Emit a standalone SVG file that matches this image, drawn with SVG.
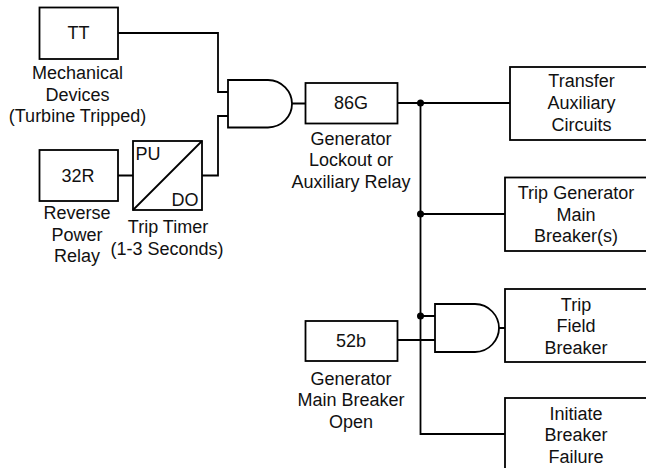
<svg xmlns="http://www.w3.org/2000/svg" width="646" height="468" viewBox="0 0 646 468">
<style>
.b{fill:#fff;stroke:#000;stroke-width:1.8}
.c{fill:none;stroke:#000;stroke-width:1.8}
text{font-family:"Liberation Sans",Arial,sans-serif;font-size:18px;fill:#111;text-anchor:middle}
</style>
<rect width="646" height="468" fill="#fff"/>
<g id="connectors">
<path class="c" d="M118 33H218V92H228M118 175.500H133M202 175.500H218V116H228M292 103.500H305.500M397.500 103H510M420.500 103V434H505M420.500 214H505M420.500 316H435M398 340H435M499 328H505"/>
<circle cx="420.500" cy="103" r="3.500"/>
<circle cx="420.500" cy="214" r="3.500"/>
<circle cx="420.500" cy="316" r="3.500"/>
</g>
<g id="tt"><rect class="b" x="39.500" y="7.500" width="78.500" height="51.500"/><text x="78.500" y="39">TT</text>
<text x="77.500" y="79">Mechanical</text><text x="77.500" y="100.500">Devices</text><text x="77.500" y="122">(Turbine Tripped)</text></g>
<g id="r32"><rect class="b" x="39.500" y="150" width="78.500" height="51"/><text x="78" y="182">32R</text>
<text x="77" y="219">Reverse</text><text x="77" y="240.500">Power</text><text x="77" y="262">Relay</text></g>
<g id="timer"><rect class="b" x="133" y="141" width="69" height="69"/><path class="c" d="M133 210L202 141"/><text x="148" y="160">PU</text><text x="185" y="206">DO</text>
<text x="168" y="233">Trip Timer</text><text x="167" y="254.500">(1-3 Seconds)</text></g>
<g id="and1"><path class="b" d="M228 80H268C282 80 292 92 292 103.750C292 116 282 127.500 268 127.500H228Z"/></g>
<g id="g86"><rect class="b" x="305.500" y="83" width="92" height="40.500"/><text x="351" y="109">86G</text>
<text x="351" y="144.500">Generator</text><text x="351" y="166">Lockout or</text><text x="351" y="187.500">Auxiliary Relay</text></g>
<g id="transfer"><rect class="b" x="510" y="67" width="140" height="73"/><text x="581.500" y="87">Transfer</text><text x="581.500" y="109">Auxiliary</text><text x="581.500" y="130.500">Circuits</text></g>
<g id="tripgen"><rect class="b" x="505" y="177.500" width="145" height="73.500"/><text x="576" y="199">Trip Generator</text><text x="576" y="220.500">Main</text><text x="576" y="242">Breaker(s)</text></g>
<g id="and2"><path class="b" d="M435 304H475C489 304 499 316 499 328C499 340 489 352 475 352H435Z"/></g>
<g id="tripfield"><rect class="b" x="505" y="289" width="145" height="73"/><text x="576" y="310.500">Trip</text><text x="576" y="332">Field</text><text x="576" y="353.500">Breaker</text></g>
<g id="b52"><rect class="b" x="305.500" y="321" width="92" height="40"/><text x="351" y="346.500">52b</text>
<text x="351" y="384.500">Generator</text><text x="351" y="406">Main Breaker</text><text x="351" y="427.500">Open</text></g>
<g id="initiate"><rect class="b" x="505" y="398" width="145" height="80"/><text x="576" y="419.500">Initiate</text><text x="576" y="441">Breaker</text><text x="576" y="462.500">Failure</text></g>
</svg>
